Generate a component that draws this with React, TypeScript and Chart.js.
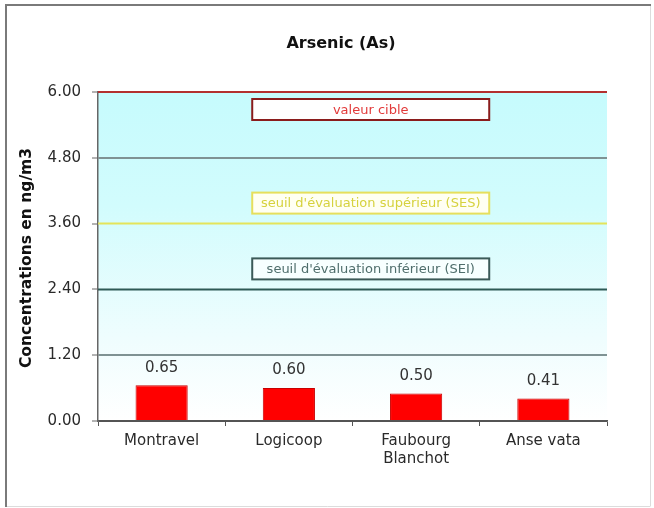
import { useEffect, useRef } from "react";
import { Chart, registerables } from "chart.js";

Chart.register(...registerables);

// Sampling sites and measured arsenic concentrations (ng/m3)
const sites: (string | string[])[] = ["Montravel", "Logicoop", ["Faubourg", "Blanchot"], "Anse vata"];
const arsenic = [0.65, 0.6, 0.5, 0.41];

// Y axis ticks
const yTicks = [0, 1.2, 2.4, 3.6, 4.8, 6.0];

// Regulatory thresholds
const thresholdNames = [
  "valeur cible",
  "seuil d'évaluation supérieur (SES)",
  "seuil d'évaluation inférieur (SEI)",
];
const thresholdValues = [6.0, 3.6, 2.4];

const chartTitle = "Arsenic (As)";
const yAxisTitle = "Concentrations en ng/m3";

const FONT = "'DejaVu Sans', 'Liberation Sans', Arial, sans-serif";

// Visual style of each threshold: line colour, box border, box fill, text colour, box placement
const thresholdStyles = [
  { line: "#b3302f", border: "#8a1c1c", fill: "#ffffff", text: "#e23a3a", below: true },
  { line: "#e4e45a", border: "#e6df5c", fill: "#fffff2", text: "#d6d23e", below: false },
  { line: "#2e5a56", border: "#3b5a58", fill: "#f7ffff", text: "#4f6e6c", below: false },
];

const decorPlugin = {
  id: "decor",
  beforeDraw(chart: any) {
    const { ctx, chartArea: a, width, height } = chart;
    ctx.save();
    ctx.fillStyle = "#ffffff";
    ctx.fillRect(0, 0, width, height);
    const g = ctx.createLinearGradient(0, a.top, 0, a.bottom);
    g.addColorStop(0, "#c6fbfd");
    g.addColorStop(0.35, "#d2fcfd");
    g.addColorStop(0.75, "#effdfe");
    g.addColorStop(1, "#ffffff");
    ctx.fillStyle = g;
    ctx.fillRect(a.left, a.top, a.right - a.left, a.bottom - a.top);
    ctx.restore();
  },
  beforeDatasetsDraw(chart: any) {
    const { ctx, chartArea: a, scales } = chart;
    const y = scales.y;
    ctx.save();
    thresholdValues.forEach((v, i) => {
      const st = thresholdStyles[i];
      const py = y.getPixelForValue(v);
      ctx.strokeStyle = st.line;
      ctx.lineWidth = 2;
      ctx.beginPath();
      ctx.moveTo(a.left, py);
      ctx.lineTo(a.right, py);
      ctx.stroke();

      const bw = 237;
      const bh = 21;
      const bx = a.left + (a.right - a.left) * 0.303;
      const by = st.below ? py + 7 : py - 10 - bh;
      ctx.fillStyle = st.fill;
      ctx.fillRect(bx, by, bw, bh);
      ctx.strokeStyle = st.border;
      ctx.lineWidth = 2;
      ctx.strokeRect(bx, by, bw, bh);
      ctx.fillStyle = st.text;
      ctx.font = `13px ${FONT}`;
      ctx.textAlign = "center";
      ctx.textBaseline = "middle";
      ctx.fillText(thresholdNames[i], bx + bw / 2, by + bh / 2 + 1);
    });
    ctx.restore();
  },
  afterDatasetsDraw(chart: any) {
    const { ctx } = chart;
    const meta = chart.getDatasetMeta(0);
    ctx.save();
    ctx.fillStyle = "#333333";
    ctx.font = `15px ${FONT}`;
    ctx.textAlign = "center";
    ctx.textBaseline = "bottom";
    meta.data.forEach((bar: any, i: number) => {
      ctx.fillText(arsenic[i].toFixed(2), bar.x, bar.y - 10);
    });
    ctx.restore();
  },
  afterDraw(chart: any) {
    const { ctx, width, height } = chart;
    ctx.save();
    // chart title
    ctx.fillStyle = "#111111";
    ctx.font = `bold 16px ${FONT}`;
    ctx.textAlign = "center";
    ctx.textBaseline = "middle";
    ctx.fillText(chartTitle, 341, 44);
    // y axis title
    ctx.translate(27, 258);
    ctx.rotate(-Math.PI / 2);
    ctx.font = `bold 15.5px ${FONT}`;
    ctx.fillText(yAxisTitle, 0, 0);
    ctx.setTransform(1, 0, 0, 1, 0, 0);
    // outer frame
    ctx.strokeStyle = "#dcdcdc";
    ctx.lineWidth = 1;
    ctx.beginPath();
    ctx.moveTo(650.5, 4);
    ctx.lineTo(650.5, height - 2);
    ctx.moveTo(5, height - 1.5);
    ctx.lineTo(650.5, height - 1.5);
    ctx.stroke();
    ctx.strokeStyle = "#7a7a7a";
    ctx.lineWidth = 2;
    ctx.beginPath();
    ctx.moveTo(6, height - 1);
    ctx.lineTo(6, 5);
    ctx.lineTo(width - 3, 5);
    ctx.stroke();
    ctx.restore();
  },
};

export default function App() {
  const ref = useRef<HTMLCanvasElement>(null);

  useEffect(() => {
    if (!ref.current) return;
    const chart = new Chart(ref.current, {
      type: "bar",
      data: {
        labels: sites,
        datasets: [
          {
            data: arsenic,
            backgroundColor: "#ff0000",
            borderColor: "#c80000",
            borderWidth: 1,
            barPercentage: 0.41,
            categoryPercentage: 1,
          },
        ],
      },
      options: {
        responsive: false,
        animation: false,
        devicePixelRatio: 1,
        layout: { padding: { top: 92, right: 47, left: 0, bottom: 0 } },
        plugins: {
          legend: { display: false },
          tooltip: { enabled: false },
          title: { display: false },
        },
        scales: {
          x: {
            afterFit: (s: any) => {
              s.height = 87;
            },
            grid: {
              offset: true,
              drawOnChartArea: false,
              tickLength: 5,
              tickColor: "#555555",
              tickWidth: 1,
            },
            border: { color: "#555555", width: 1.5 },
            ticks: {
              color: "#2a2a2a",
              font: { family: FONT, size: 15, lineHeight: 1.2 },
              padding: 6,
              maxRotation: 0,
              autoSkip: false,
            },
          },
          y: {
            min: 0,
            max: 6,
            afterFit: (s: any) => {
              s.width = 98;
            },
            afterBuildTicks: (s: any) => {
              s.ticks = yTicks.map((v) => ({ value: v }));
            },
            grid: {
              color: (c: any) => {
                const v = c.tick ? c.tick.value : 0;
                if (thresholdValues.includes(v)) return "rgba(0,0,0,0)";
                if (v === 0) return "#555555";
                return "#7f9293";
              },
              lineWidth: 2,
              tickLength: 6,
              tickColor: "#666666",
              tickWidth: 1,
            },
            border: { color: "#666666", width: 1.5 },
            ticks: {
              color: "#2a2a2a",
              font: { family: FONT, size: 15 },
              padding: 11,
              callback: (v: any) => Number(v).toFixed(2),
            },
          },
        },
      },
      plugins: [decorPlugin],
    });
    return () => chart.destroy();
  }, []);

  return (
    <div style={{ position: "absolute", left: 0, top: 0, width: 654, height: 508 }}>
      <canvas ref={ref} width={654} height={508} style={{ display: "block" }} />
    </div>
  );
}
